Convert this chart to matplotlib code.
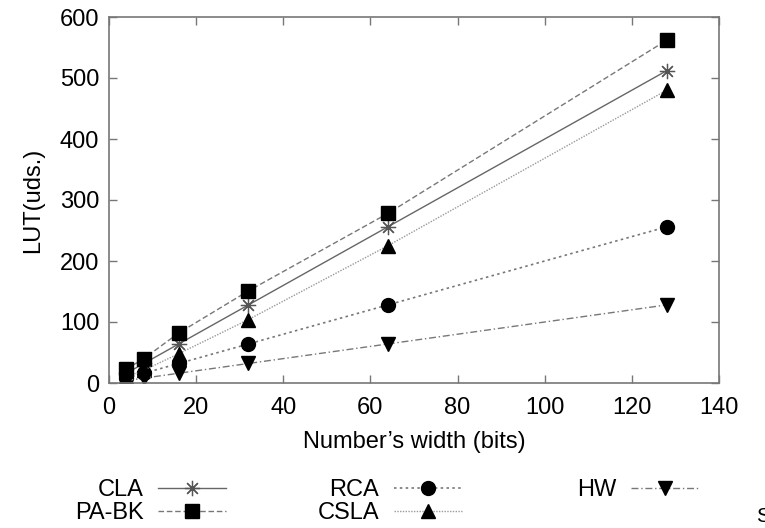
import matplotlib
matplotlib.use('Agg')
import matplotlib.pyplot as plt

plt.rcParams['font.family'] = ['Liberation Sans', 'DejaVu Sans']

# data
width = [4, 8, 16, 32, 64, 128]
cla = [16, 32, 64, 128, 256, 512]
pabk = [23, 40, 82, 151, 278, 562]
rca = [8, 16, 32, 64, 128, 256]
csla = [10, 21, 48, 104, 225, 480]
hw = [4, 8, 16, 32, 64, 128]

xticks = [0, 20, 40, 60, 80, 100, 120, 140]
yticks = [0, 100, 200, 300, 400, 500, 600]

fs = 17

fig = plt.figure(figsize=(7.65, 5.28), dpi=100)
ax = fig.add_axes([109/765, 1-383/528, 610/765, 366/528])

l_cla, = ax.plot(width, cla, color='#666666', lw=1.0, ls='-',
                 marker=(8, 2, 0), ms=11, mec='#555555', mew=0.9, label='CLA')
l_pabk, = ax.plot(width, pabk, color='#777777', lw=1.0, ls=(0, (4, 2)),
                  marker='s', ms=10, mfc='black', mec='black', label='PA-BK')
l_rca, = ax.plot(width, rca, color='#777777', lw=1.2, ls=(0, (1.5, 2)),
                 marker='o', ms=10, mfc='black', mec='black', label='RCA')
l_csla, = ax.plot(width, csla, color='#999999', lw=1.0, ls=(0, (1, 1)),
                  marker='^', ms=10, mfc='black', mec='black', label='CSLA')
l_hw, = ax.plot(width, hw, color='#777777', lw=1.0, ls=(0, (5, 2, 1, 2)),
                marker='v', ms=10, mfc='black', mec='black', label='HW')

ax.set_xlim(0, 140)
ax.set_ylim(0, 600)
ax.set_xticks(xticks)
ax.set_yticks(yticks)
ax.tick_params(direction='in', top=True, right=True, length=6, width=1,
               color='#777777', labelsize=fs)
ax.tick_params(axis='x', pad=10)
ax.tick_params(axis='y', pad=7)
for s in ax.spines.values():
    s.set_color('#777777')
    s.set_linewidth(1.2)

ax.set_xlabel("Number\u2019s width (bits)", fontsize=fs, labelpad=9)
ax.set_ylabel('LUT(uds.)', fontsize=fs, labelpad=11)

# gnuplot style key: three columns, label before sample
cols = [([l_cla, l_pabk], 226), ([l_rca, l_csla], 462), ([l_hw], 699)]
for handles, xr in cols:
    fig.legend(handles=handles, loc='upper right',
               bbox_to_anchor=(xr/765, 1-479/528), frameon=False,
               markerfirst=False, fontsize=fs, handlelength=2.9,
               handletextpad=0.6, borderpad=0, borderaxespad=0,
               labelspacing=0.05)

fig.text(756/765, 1-516/528, 'S', fontsize=fs-2, va='center', ha='left')

fig.savefig('out.png', dpi=100)
